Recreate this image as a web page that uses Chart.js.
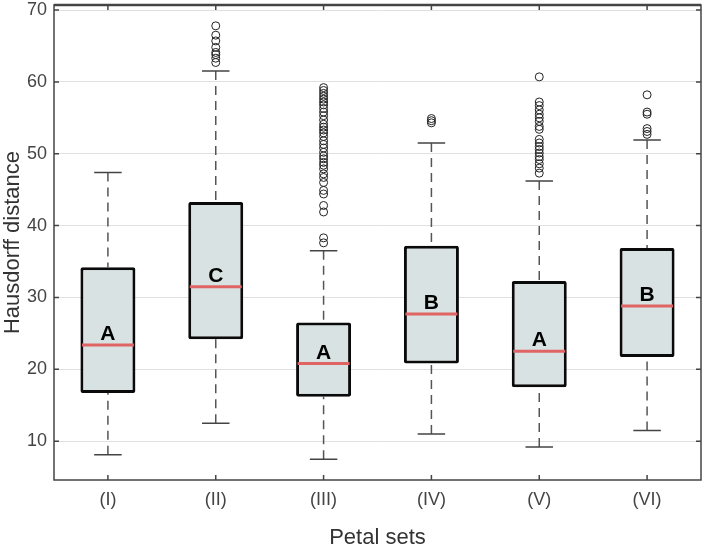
<!DOCTYPE html>
<html>
<head>
<meta charset="utf-8">
<script src="https://cdn.jsdelivr.net/npm/chart.js@4/dist/chart.umd.min.js"></script>
<style>
  body { margin: 0; background: #fff; }
  #wrap { width: 706px; height: 551px; }
</style>
</head>
<body>
<div id="wrap"><canvas id="myChart"></canvas></div>
<script>
// box plot values
const labels = ['(I)', '(II)', '(III)', '(IV)', '(V)', '(VI)'];
const whiskerLow  = [8.1, 12.5, 7.5, 11.0, 9.2, 11.5];
const q1          = [16.7, 24.2, 16.2, 20.8, 17.5, 21.7];
const median      = [23.4, 31.5, 20.8, 27.7, 22.5, 28.8];
const q3          = [34.2, 43.3, 26.5, 37.2, 32.3, 36.9];
const whiskerHigh = [47.4, 61.5, 36.5, 51.5, 46.2, 51.9];
const groupLetters = ['A', 'C', 'A', 'B', 'A', 'B'];

const outliersI   = [];
const outliersII  = [62.7, 63.3, 63.8, 64.1, 64.8, 65.7, 66.5, 67.8];
const outliersIII = [37.6, 38.3, 41.9, 42.8, 44.4, 44.9, 46.0, 46.7, 47.2, 47.9, 48.4, 48.8,
                     49.3, 49.7, 50.2, 50.8, 51.3, 51.8, 52.4, 52.9, 53.3, 53.7, 54.1, 54.7,
                     55.3, 55.8, 56.3, 56.8, 57.2, 57.6, 58.0, 58.4, 58.8, 59.2];
const outliersIV  = [54.3, 54.6, 54.9];
const outliersV   = [47.3, 48.0, 48.6, 49.2, 49.6, 50.1, 50.6, 51.0, 51.5, 52.0, 53.4, 53.8,
                     54.5, 55.0, 55.5, 56.1, 56.7, 57.2, 60.7];
const outliersVI  = [52.7, 53.1, 53.5, 55.5, 55.8, 58.2];

const yTickValues = [10, 20, 30, 40, 50, 60, 70];

const allOutliers = [outliersI, outliersII, outliersIII, outliersIV, outliersV, outliersVI];
const outlierPoints = [];
allOutliers.forEach((list, i) => {
  list.forEach(v => outlierPoints.push({ x: labels[i], y: v }));
});

const FONT = "'Liberation Sans', Arial, Helvetica, sans-serif";

// whiskers, medians, letters, frame and inward ticks
const boxExtras = {
  id: 'boxExtras',
  beforeDatasetsDraw(chart) {
    const ctx = chart.ctx;
    const y = chart.scales.y;
    const meta = chart.getDatasetMeta(0);
    ctx.save();
    labels.forEach((lab, i) => {
      const bar = meta.data[i];
      const cx = bar.x;
      const capHalf = bar.width / 4;
      ctx.strokeStyle = '#555';
      ctx.lineWidth = 1.5;
      ctx.setLineDash([9, 6]);
      ctx.beginPath();
      ctx.moveTo(cx, y.getPixelForValue(whiskerHigh[i]));
      ctx.lineTo(cx, y.getPixelForValue(q3[i]));
      ctx.moveTo(cx, y.getPixelForValue(whiskerLow[i]));
      ctx.lineTo(cx, y.getPixelForValue(q1[i]));
      ctx.stroke();
      ctx.setLineDash([]);
      ctx.strokeStyle = '#444';
      ctx.beginPath();
      const hi = y.getPixelForValue(whiskerHigh[i]);
      const lo = y.getPixelForValue(whiskerLow[i]);
      ctx.moveTo(cx - capHalf, hi); ctx.lineTo(cx + capHalf, hi);
      ctx.moveTo(cx - capHalf, lo); ctx.lineTo(cx + capHalf, lo);
      ctx.stroke();
    });
    ctx.restore();
  },
  afterDatasetsDraw(chart) {
    const ctx = chart.ctx;
    const y = chart.scales.y;
    const meta = chart.getDatasetMeta(0);
    ctx.save();
    labels.forEach((lab, i) => {
      const bar = meta.data[i];
      const half = bar.width / 2 - 1.5;
      const my = y.getPixelForValue(median[i]);
      ctx.strokeStyle = '#e06464';
      ctx.lineWidth = 3;
      ctx.beginPath();
      ctx.moveTo(bar.x - half, my);
      ctx.lineTo(bar.x + half, my);
      ctx.stroke();
      ctx.fillStyle = '#000';
      ctx.font = 'bold 21px ' + FONT;
      ctx.textAlign = 'center';
      ctx.textBaseline = 'alphabetic';
      ctx.fillText(groupLetters[i], bar.x, my - 5);
    });
    ctx.restore();
  },
  afterDraw(chart) {
    const ctx = chart.ctx;
    const { left, right, top, bottom } = chart.chartArea;
    const x = chart.scales.x;
    const y = chart.scales.y;
    ctx.save();
    ctx.strokeStyle = '#444';
    ctx.lineWidth = 1.5;
    ctx.beginPath();
    labels.forEach((lab, i) => {
      const px = x.getPixelForValue(i);
      ctx.moveTo(px, bottom); ctx.lineTo(px, bottom - 5);
      ctx.moveTo(px, top); ctx.lineTo(px, top + 5);
    });
    yTickValues.forEach(v => {
      const py = y.getPixelForValue(v);
      ctx.moveTo(left, py); ctx.lineTo(left + 5, py);
      ctx.moveTo(right, py); ctx.lineTo(right - 5, py);
    });
    ctx.stroke();
    ctx.strokeRect(left, top, right - left, bottom - top);
    ctx.lineWidth = 2.5;
    ctx.beginPath();
    ctx.moveTo(left, top); ctx.lineTo(right, top);
    ctx.stroke();
    ctx.restore();
  }
};

new Chart(document.getElementById('myChart'), {
  type: 'bar',
  data: {
    labels: labels,
    datasets: [{
      label: 'Box',
      data: labels.map((l, i) => [q1[i], q3[i]]),
      backgroundColor: '#d8e2e2',
      borderColor: '#0a0a0a',
      borderWidth: 3,
      borderRadius: 2,
      borderSkipped: false,
      barPercentage: 0.51,
      categoryPercentage: 1
    }, {
      type: 'line',
      label: 'Outliers',
      data: outlierPoints,
      showLine: false,
      pointStyle: 'circle',
      pointRadius: 4,
      pointBorderWidth: 1,
      pointBorderColor: '#222',
      pointBackgroundColor: 'rgba(0,0,0,0)'
    }]
  },
  options: {
    animation: false,
    responsive: true,
    maintainAspectRatio: false,
    layout: { padding: { top: 3, right: 3, left: 0, bottom: 0 } },
    plugins: {
      legend: { display: false },
      tooltip: { enabled: false }
    },
    scales: {
      x: {
        grid: { display: false, drawTicks: false },
        border: { display: false },
        ticks: { color: '#444', padding: 9, font: { family: FONT, size: 18 } },
        title: {
          display: true, text: 'Petal sets', color: '#333', padding: 0,
          font: { family: FONT, size: 22 }
        },
        afterFit(scale) {
          scale.height = 71;
          scale.paddingLeft = 0;
          scale.paddingRight = 0;
        }
      },
      y: {
        min: 4.6,
        max: 70.7,
        afterBuildTicks(scale) { scale.ticks = yTickValues.map(v => ({ value: v })); },
        grid: { color: '#e0e0e0', lineWidth: 1, drawTicks: false },
        border: { display: false },
        ticks: { color: '#444', padding: 7, font: { family: FONT, size: 18 } },
        title: {
          display: true, text: 'Hausdorff distance', color: '#333', padding: 0,
          font: { family: FONT, size: 22 }
        },
        afterFit(scale) {
          scale.width = 54;
          scale.paddingTop = 0;
          scale.paddingBottom = 0;
        }
      }
    }
  },
  plugins: [boxExtras]
});
</script>
</body>
</html>
